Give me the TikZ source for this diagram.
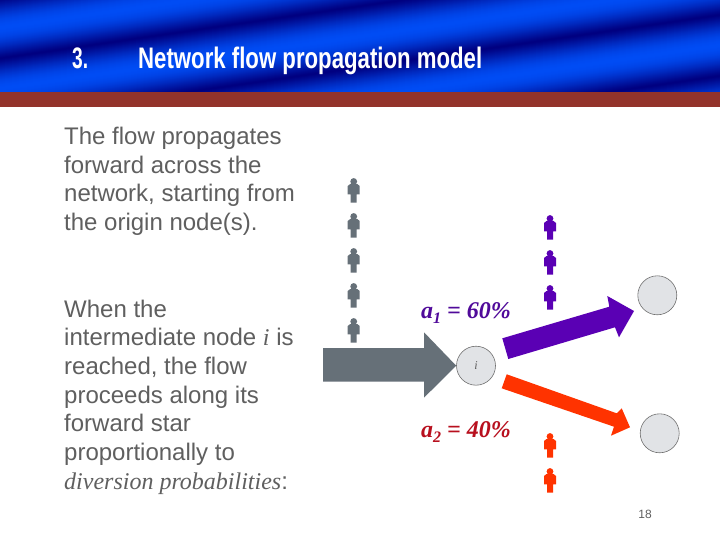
\documentclass[tikz,border=0pt]{standalone}
\usepackage{fontspec}
\setmainfont{Liberation Sans}
\newfontfamily\timesf{Liberation Serif}
\definecolor{rust}{HTML}{93332B}
\definecolor{bodyc}{HTML}{5F5F5F}
\definecolor{greyflow}{HTML}{667078}
\definecolor{purpleflow}{HTML}{5A00B4}
\definecolor{orangeflow}{HTML}{FF3300}
\definecolor{redlabel}{HTML}{B8101E}
\definecolor{purplelabel}{HTML}{500A9A}
\definecolor{nodefill}{HTML}{E1E3E6}
\definecolor{nodeline}{HTML}{707070}
\definecolor{banddark}{HTML}{000080}
\definecolor{bandbright}{HTML}{004CF4}
\tikzset{
  netnode/.style={circle,draw=nodeline,fill=nodefill,line width=0.6pt,minimum size=39pt,inner sep=0pt},
  bodytext/.style={anchor=north west,inner sep=0pt,align=left,text=bodyc,font=\fontsize{24}{28.7}\selectfont},
  pctlabel/.style={anchor=base west,inner sep=0pt,font=\timesf\bfseries\itshape\fontsize{24}{28}\selectfont},
  titletext/.style={anchor=base west,inner sep=0pt,text=white,font=\bfseries},
  person/.pic={
    \fill (0,3.5) circle[radius=3.4];
    \fill (-3.5,6) -- (3.5,6) -- (6,8) -- (6,16.3) -- (3,16.3) -- (3,24.7) -- (-3,24.7) -- (-3,16.3) -- (-6,16.3) -- (-6,8) -- cycle;
  }
}
\newcommand{\subs}[1]{\raisebox{-5pt}{\fontsize{16}{16}\selectfont #1}}
\begin{document}
\begin{tikzpicture}[x=1pt,y=-1pt]
\useasboundingbox (0,0) rectangle (720,540);
\fill[white] (0,0) rectangle (720,540);
% banner
\begin{scope}
\clip (0,0) rectangle (720,93);
\foreach \yy in {0,1,...,200}{
  \pgfmathsetmacro{\mixv}{100*(max(0.0001,0.5*(1-cos(5.9016*(\yy-58)))))^0.6}
  \fill[bandbright!\mixv!banddark] (0,\yy) -- (720,\yy-104.4) -- (720,\yy-102.4) -- (0,\yy+2) -- cycle;
}
\end{scope}
\fill[rust] (0,92) rectangle (720,107);
\node[titletext] (num) at (72,69) {\resizebox{16pt}{20.7pt}{3.}};
\node[titletext] (title) at (138,69) {\resizebox{344pt}{21.5pt}{Network flow propagation model}};
% left text
\node[bodytext] (para1) at (64,127) {The flow propagates\\forward across the\\network, starting from\\the origin node(s).};
\node[bodytext] (para2) at (64,299.5) {When the\\intermediate node {\timesf\itshape i} is\\reached, the flow\\proceeds along its\\forward star\\proportionally to\\{\timesf\itshape diversion probabilities}:};
% nodes
\node[netnode] (i) at (476,365.7) {\timesf\itshape\fontsize{12}{12}\selectfont\textcolor{bodyc}{i}};
\node[netnode] (d1) at (657.3,295.3) {};
\node[netnode] (d2) at (659.7,433.3) {};
% flows
\fill[greyflow] (323,348) -- (424,348) -- (424,332.3) -- (i.west) -- (424,397.7) -- (424,381.7) -- (323,381.7) -- cycle;
\coordinate (ptip) at (634,311);
\fill[purpleflow] (502.3,338.3) -- (609.3,306.7) -- (607.3,296) -- (ptip) -- (619,337.3) -- (615,327.3) -- (508.3,359) -- cycle;
\coordinate (otip) at (630,427.3);
\fill[orangeflow] (506.7,374.3) -- (616.7,413.3) -- (621.7,408.3) -- (otip) -- (611,435.7) -- (614,426.7) -- (501.7,388.3) -- cycle;
% people
\foreach \yy in {178,213,248,283,318} \pic[color=greyflow] at (353.7,\yy) {person};
\foreach \yy in {215,250,285} \pic[color=purpleflow] at (550,\yy) {person};
\foreach \yy in {433,468} \pic[color=orangeflow] at (550,\yy) {person};
% labels
\node[pctlabel,text=purplelabel] (a1) at (421,318) {a\subs{1} = 60\%};
\node[pctlabel,text=redlabel] (a2) at (421,437) {a\subs{2} = 40\%};
\node[anchor=base,inner sep=0pt,text=bodyc,font=\fontsize{12}{14}\selectfont] (page) at (645,518) {18};
\end{tikzpicture}
\end{document}
